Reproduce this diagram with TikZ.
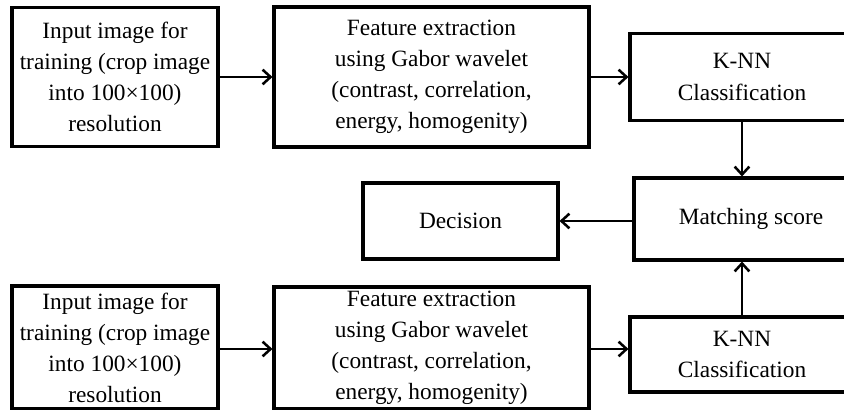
\documentclass[tikz,border=0pt]{standalone}
\usepackage{fontspec}
\setmainfont{Liberation Serif}
\usetikzlibrary{arrows.meta}

\tikzset{every picture/.style={line width=0.75pt}}
\tikzset{
  box/.style={draw, line width=2.3pt, align=center, inner sep=0pt,
    font=\fontsize{17.5}{23.3}\selectfont},
  flow/.style={line width=1.9pt, -{Straight Barb[length=6pt,width=11pt,line width=1.9pt]}}
}

\begin{document}
\begin{tikzpicture}[x=0.75pt,y=0.75pt,yscale=-1,xscale=1]
%set diagram size at 844 x 410
\clip (0,0) rectangle (844,410);

% Upper row
\node [box, minimum width=154.5pt, minimum height=104.25pt] (in1) at (115,77)
  {Input image for\\training (crop image\\into 100×100)\\resolution};
\node [box, minimum width=236.25pt, minimum height=105pt] (feat1) at (431.5,77)
  {Feature extraction\\using Gabor wavelet\\(contrast, correlation,\\energy, homogenity)};
\node [box, minimum width=168pt, minimum height=65.25pt] (knn1) at (742,77)
  {K-NN\\Classification};

% Middle row
\node [box, minimum width=175.5pt, minimum height=61.5pt] (match) at (751,219)
  {Matching score};
\node [box, minimum width=146.25pt, minimum height=57pt] (dec) at (460.5,221)
  {Decision};

% Lower row
\node [box, minimum width=154.5pt, minimum height=92.25pt] (in2) at (115,347.5)
  {Input image for\\training (crop image\\into 100×100)\\resolution};
\node [box, minimum width=236.25pt, minimum height=91.5pt] (feat2) at (431.5,348)
  {Feature extraction\\using Gabor wavelet\\(contrast, correlation,\\energy, homogenity)};
\node [box, minimum width=168pt, minimum height=56.25pt] (knn2) at (742,354.5)
  {K-NN\\Classification};

% Arrows
\draw [flow] (in1.east) -- (feat1.west);
\draw [flow] (feat1.east) -- (knn1.west);
\draw [flow] (knn1.south) -- (knn1.south |- match.north);
\draw [flow] (match.west |- dec.east) -- (dec.east);
\draw [flow] (knn2.north) -- (knn2.north |- match.south);
\draw [flow] (in2.east |- 0,349) -- (feat2.west |- 0,349);
\draw [flow] (feat2.east |- 0,349) -- (knn2.west |- 0,349);

\end{tikzpicture}
\end{document}
